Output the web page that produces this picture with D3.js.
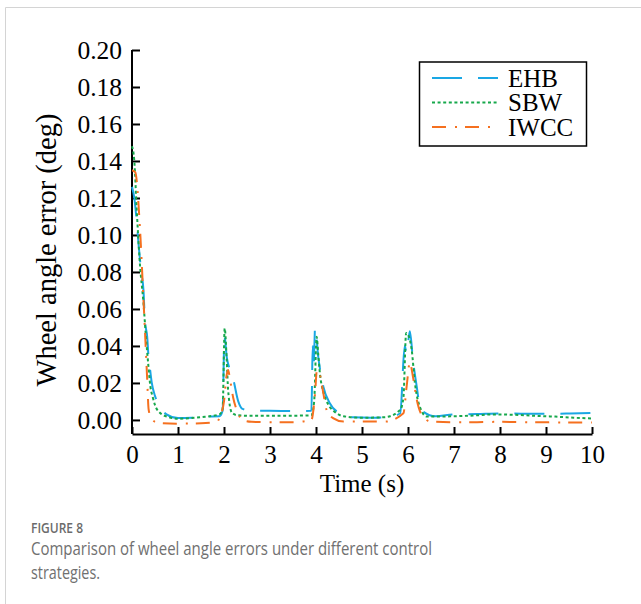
<!DOCTYPE html>
<html>
<head>
<meta charset="utf-8">
<script src="https://cdn.jsdelivr.net/npm/d3@7"></script>
<style>
  body { margin: 0; background: #fff; }
  svg { display: block; }
</style>
</head>
<body>
<div id="chart"></div>
<script>
// ---- data (time in s, error in deg) ----
const ehbT = [0, 0.05, 0.1, 0.15, 0.2, 0.25, 0.28, 0.33, 0.36, 0.38, 0.43, 0.5, 0.61, 0.75, 1.0, 1.3, 1.6, 1.9, 1.97, 2.01, 2.06, 2.13, 2.2, 2.31, 2.4, 2.6, 3.0, 3.5, 3.9, 3.93, 3.95, 3.98, 4.05, 4.16, 4.3, 4.52, 4.8, 5.2, 5.6, 5.83, 5.93, 5.97, 6.04, 6.11, 6.19, 6.26, 6.33, 6.6, 7.0, 7.5, 8.0, 8.5, 9.0, 9.5, 10];
const ehbV = [0.126, 0.12, 0.108, 0.093, 0.08, 0.07, 0.054, 0.045, 0.034, 0.03, 0.02, 0.013, 0.007, 0.003, 0.001, 0.0012, 0.0018, 0.002, 0.005, 0.045, 0.034, 0.027, 0.022, 0.01, 0.006, 0.005, 0.005, 0.0048, 0.005, 0.04, 0.03, 0.05, 0.034, 0.018, 0.009, 0.0036, 0.0014, 0.0012, 0.0016, 0.0036, 0.04, 0.036, 0.048, 0.032, 0.018, 0.007, 0.0045, 0.002, 0.003, 0.0032, 0.0035, 0.0034, 0.0033, 0.0035, 0.0038];

const sbwT = [0, 0.05, 0.1, 0.17, 0.25, 0.3, 0.35, 0.4, 0.45, 0.5, 0.6, 0.8, 1.0, 1.5, 1.9, 1.97, 2.015, 2.06, 2.09, 2.17, 2.3, 2.6, 3.0, 3.5, 3.9, 3.96, 4.015, 4.05, 4.09, 4.15, 4.2, 4.3, 4.4, 4.6, 5.0, 5.5, 5.83, 5.9, 5.96, 6.02, 6.08, 6.15, 6.26, 6.41, 6.7, 7.0, 7.5, 7.8, 8.3, 8.8, 9.2, 9.6, 10];
const sbwV = [0.148, 0.14, 0.115, 0.085, 0.063, 0.046, 0.031, 0.018, 0.0124, 0.008, 0.004, 0.0015, 0.0007, 0.0015, 0.003, 0.006, 0.0495, 0.032, 0.016, 0.004, 0.0025, 0.0022, 0.0022, 0.0023, 0.0025, 0.01, 0.045, 0.035, 0.024, 0.016, 0.012, 0.007, 0.0045, 0.002, 0.0012, 0.0015, 0.0054, 0.012, 0.047, 0.045, 0.038, 0.02, 0.007, 0.0018, 0.0018, 0.002, 0.0025, 0.003, 0.0028, 0.0022, 0.0018, 0.0012, 0.0008];

const iwccT = [0, 0.07, 0.17, 0.24, 0.28, 0.33, 0.36, 0.4, 0.5, 0.6, 1.0, 1.5, 1.85, 1.91, 2.0, 2.05, 2.09, 2.13, 2.2, 2.3, 2.4, 2.6, 3.0, 3.5, 3.9, 3.98, 4.02, 4.09, 4.16, 4.23, 4.37, 4.6, 5.0, 5.5, 5.9, 5.97, 6.04, 6.11, 6.19, 6.3, 6.5, 7.0, 7.5, 8.0, 8.5, 9.0, 9.5, 10];
const iwccV = [0.135, 0.134, 0.105, 0.07, 0.049, 0.022, 0.006, 0.002, -0.001, -0.0016, -0.002, -0.0018, -0.001, 0.0018, 0.01, 0.023, 0.027, 0.022, 0.012, 0.004, 0.0, -0.001, -0.0012, -0.0012, 0.0, 0.0146, 0.027, 0.024, 0.0144, 0.0054, 0.001, -0.0009, -0.0009, -0.0009, 0.0036, 0.018, 0.031, 0.023, 0.011, 0.0027, -0.0009, -0.0012, -0.0012, -0.001, -0.0012, -0.0013, -0.0014, -0.0014];

const seriesNames = ['EHB', 'SBW', 'IWCC'];
const seriesColors = ['#1aa7e4', '#16a84b', '#f5701f'];
const seriesDash = ['30,16', '3,2.6', '14,9,2,8'];
const xTicks = [0, 1, 2, 3, 4, 5, 6, 7, 8, 9, 10];
const yTicks = [0, 0.02, 0.04, 0.06, 0.08, 0.10, 0.12, 0.14, 0.16, 0.18, 0.20];

const series = [
    { name: seriesNames[0], t: ehbT, v: ehbV },
    { name: seriesNames[1], t: sbwT, v: sbwV },
    { name: seriesNames[2], t: iwccT, v: iwccV }
];

const W = 641, H = 604;
const svg = d3.select('#chart').append('svg')
    .attr('width', W)
    .attr('height', H);

// page frame (top and left rule)
svg.append('path')
    .attr('d', 'M5.5,604 V7.5 H641')
    .attr('fill', 'none')
    .attr('stroke', '#d4d4d4')
    .attr('stroke-width', 1);

const plotLeft = 132, plotRight = 592, plotTop = 50, plotBottom = 434;
const serif = '"Liberation Serif", "Times New Roman", serif';

const x = d3.scaleLinear().domain([0, 10]).range([plotLeft, plotRight]);
const y = d3.scaleLinear().domain([-0.0076, 0.2]).range([plotBottom, plotTop]);

// axes, ticks pointing inward
const xAxis = svg.append('g')
    .attr('transform', `translate(0,${plotBottom})`)
    .call(d3.axisBottom(x).tickValues(xTicks).tickFormat(d3.format('d'))
        .tickSizeInner(-7).tickSizeOuter(0).tickPadding(11));

const yAxis = svg.append('g')
    .attr('transform', `translate(${plotLeft},0)`)
    .call(d3.axisLeft(y).tickValues(yTicks).tickFormat(d3.format('.2f'))
        .tickSizeInner(-8).tickSizeOuter(0).tickPadding(10));

[xAxis, yAxis].forEach(g => {
    g.select('.domain').attr('stroke-width', 2).attr('stroke', '#000');
    g.selectAll('.tick line').attr('stroke-width', 2).attr('stroke', '#000');
    g.selectAll('.tick text')
        .attr('font-family', serif)
        .attr('font-size', 25.5)
        .attr('fill', '#000');
});
yAxis.select('.domain').attr('d', `M0,${plotBottom}V${plotTop}`);
xAxis.selectAll('.tick text').attr('dy', '0.71em').attr('font-size', 25);

// series lines
const line = d3.line()
    .x(d => x(d[0]))
    .y(d => y(d[1]))
    .curve(d3.curveMonotoneX);

series.forEach((s, i) => {
    svg.append('path')
        .datum(s.t.map((t, j) => [t, s.v[j]]))
        .attr('fill', 'none')
        .attr('stroke', seriesColors[i])
        .attr('stroke-width', 2)
        .attr('stroke-dasharray', seriesDash[i])
        .attr('d', line);
});

// axis titles
svg.append('text')
    .attr('x', (plotLeft + plotRight) / 2)
    .attr('y', 492)
    .attr('text-anchor', 'middle')
    .attr('font-family', serif)
    .attr('font-size', 25)
    .text('Time (s)');

svg.append('text')
    .attr('transform', 'translate(56,250) rotate(-90)')
    .attr('text-anchor', 'middle')
    .attr('font-family', serif)
    .attr('font-size', 28.5)
    .text('Wheel angle error (deg)');

// legend
const legend = svg.append('g');
legend.append('rect')
    .attr('x', 419.5).attr('y', 62)
    .attr('width', 167).attr('height', 84)
    .attr('fill', '#fff')
    .attr('stroke', '#000')
    .attr('stroke-width', 1.5);

seriesNames.forEach((name, i) => {
    const cy = 78 + i * 24.5;
    legend.append('line')
        .attr('x1', 432).attr('x2', 498)
        .attr('y1', cy).attr('y2', cy)
        .attr('stroke', seriesColors[i])
        .attr('stroke-width', 2)
        .attr('stroke-dasharray', seriesDash[i]);
    legend.append('text')
        .attr('x', 508)
        .attr('y', cy)
        .attr('dy', '0.35em')
        .attr('font-family', serif)
        .attr('font-size', 25)
        .text(name);
});

// caption
const sans = '"Open Sans", "Noto Sans", sans-serif';
svg.append('text')
    .attr('x', 31).attr('y', 533)
    .attr('font-family', sans)
    .attr('font-size', 14)
    .attr('font-weight', 600)
    .attr('fill', '#6b6b6b')
    .attr('textLength', 52)
    .attr('lengthAdjust', 'spacingAndGlyphs')
    .text('FIGURE 8');

const captionLines = ['Comparison of wheel angle errors under different control', 'strategies.'];
const captionWidths = [401, 69];
captionLines.forEach((txt, i) => {
    svg.append('text')
        .attr('x', 31).attr('y', 555 + i * 24)
        .attr('font-family', sans)
        .attr('font-size', 17.5)
        .attr('fill', '#707070')
        .attr('textLength', captionWidths[i])
        .attr('lengthAdjust', 'spacingAndGlyphs')
        .text(txt);
});
</script>
</body>
</html>
